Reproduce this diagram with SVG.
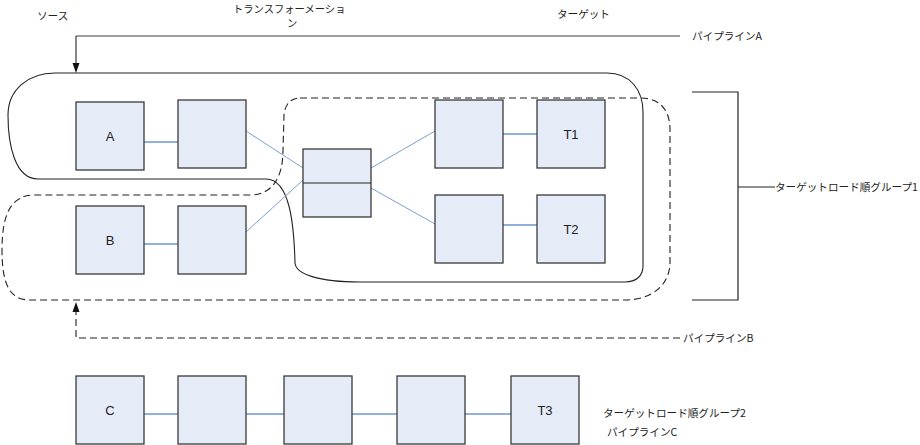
<svg xmlns="http://www.w3.org/2000/svg" width="920" height="445" viewBox="0 0 920 445">
<style>
.box{fill:#e6ecf7;stroke:#3a3a3a;stroke-width:1.3}
.lbl{font-family:"Liberation Sans",Arial,sans-serif;font-size:13px;fill:#222;text-anchor:middle}
.jp{font-family:"Noto Sans CJK JP","Noto Sans",sans-serif;font-size:10.6px;fill:#222}
.ln{stroke:#7a9ed6;stroke-width:1;fill:none}
.lnh{stroke:#93b0dc;stroke-width:2;fill:none}
.solid{fill:none;stroke:#222;stroke-width:1.1}
.dash{fill:none;stroke:#222;stroke-width:1.1;stroke-dasharray:7,4}
.arr{fill:#111;stroke:none}
</style>
<text class="jp" x="37" y="20">ソース</text>
<text class="jp" x="233" y="12.5" style="font-size:10.3px">トランスフォーメーショ</text>
<text class="jp" x="287" y="27" style="font-size:10.3px">ン</text>
<text class="jp" x="557" y="18">ターゲット</text>
<g id="regions">
<path class="solid" d="M 55 73 L 607 73 C 630 73 643 90 643 112 L 643 266 C 643 276 636 282 625 282 L 360 282 C 318 282 296 274 295 263 C 294 225 290 179 266 179 L 38 179 C 15 179 8 145 8 115 C 8 90 28 73 55 73 Z"/>
<path class="dash" d="M 300 98 L 640 98 C 660 98 670 110 670 130 L 670 262 C 670 285 652 300 625 300 L 30 300 C 10 300 2 285 2 250 C 2 212 12 195 35 195 L 250 195 C 272 195 283 178 283 150 L 284 115 C 285 105 290 98 300 98 Z"/>
</g>
<g id="connectors">
<line class="lnh" x1="144" y1="142" x2="178" y2="142"/>
<line class="lnh" x1="144" y1="244" x2="178" y2="244"/>
<line class="ln" x1="246" y1="131" x2="303" y2="168"/>
<line class="ln" x1="246" y1="232" x2="303" y2="180"/>
<line class="ln" x1="371" y1="168" x2="435" y2="131"/>
<line class="ln" x1="371" y1="188" x2="435" y2="224"/>
<line class="lnh" x1="503" y1="134" x2="537" y2="134"/>
<line class="lnh" x1="503" y1="225" x2="537" y2="225"/>
<line class="lnh" x1="144" y1="414" x2="178" y2="414"/>
<line class="lnh" x1="246" y1="414" x2="284" y2="414"/>
<line class="lnh" x1="352" y1="414" x2="397" y2="414"/>
<line class="lnh" x1="465" y1="414" x2="511" y2="414"/>
<line x1="680" y1="36" x2="76" y2="36" stroke="#7f7f7f" stroke-width="1.6"/>
<line x1="76" y1="36" x2="76" y2="64" stroke="#111" stroke-width="1"/>
<polygon class="arr" points="72.5,63 79.5,63 76,73"/>
<path class="dash" d="M 680 338 L 76 338 L 76 311"/>
<polygon class="arr" points="72.5,312 79.5,312 76,302"/>
<path d="M 692 92 L 738 92 L 738 300 L 692 300 M 738 187 L 775 187" fill="none" stroke="#222" stroke-width="1.2"/>
</g>
<text class="jp" x="692" y="40">パイプラインA</text>
<text class="jp" x="683" y="342">パイプラインB</text>
<text class="jp" x="775" y="191">ターゲットロード順グループ1</text>
<text class="jp" x="603" y="417">ターゲットロード順グループ2</text>
<text class="jp" x="607" y="436">パイプラインC</text>
<g id="nA"><rect class="box" x="76" y="102" width="68" height="68"/><text class="lbl" x="110" y="141">A</text></g>
<g id="nA2"><rect class="box" x="178" y="100" width="68" height="68"/></g>
<g id="nB"><rect class="box" x="76" y="206" width="68" height="68"/><text class="lbl" x="110" y="245">B</text></g>
<g id="nB2"><rect class="box" x="178" y="206" width="68" height="68"/></g>
<g id="nMid"><rect class="box" x="303" y="149" width="68" height="68"/><line x1="303" y1="183" x2="371" y2="183" stroke="#222" stroke-width="1.2"/></g>
<g id="nX1"><rect class="box" x="435" y="100" width="68" height="68"/></g>
<g id="nT1"><rect class="box" x="537" y="100" width="68" height="68"/><text class="lbl" x="571" y="139">T1</text></g>
<g id="nX2"><rect class="box" x="435" y="195" width="68" height="68"/></g>
<g id="nT2"><rect class="box" x="537" y="195" width="68" height="68"/><text class="lbl" x="571" y="234">T2</text></g>
<g id="nC"><rect class="box" x="76" y="376" width="68" height="68"/><text class="lbl" x="110" y="415">C</text></g>
<g id="nC2"><rect class="box" x="178" y="376" width="68" height="68"/></g>
<g id="nC3"><rect class="box" x="284" y="376" width="68" height="68"/></g>
<g id="nC4"><rect class="box" x="397" y="376" width="68" height="68"/></g>
<g id="nT3"><rect class="box" x="511" y="376" width="68" height="68"/><text class="lbl" x="545" y="415">T3</text></g>
</svg>
